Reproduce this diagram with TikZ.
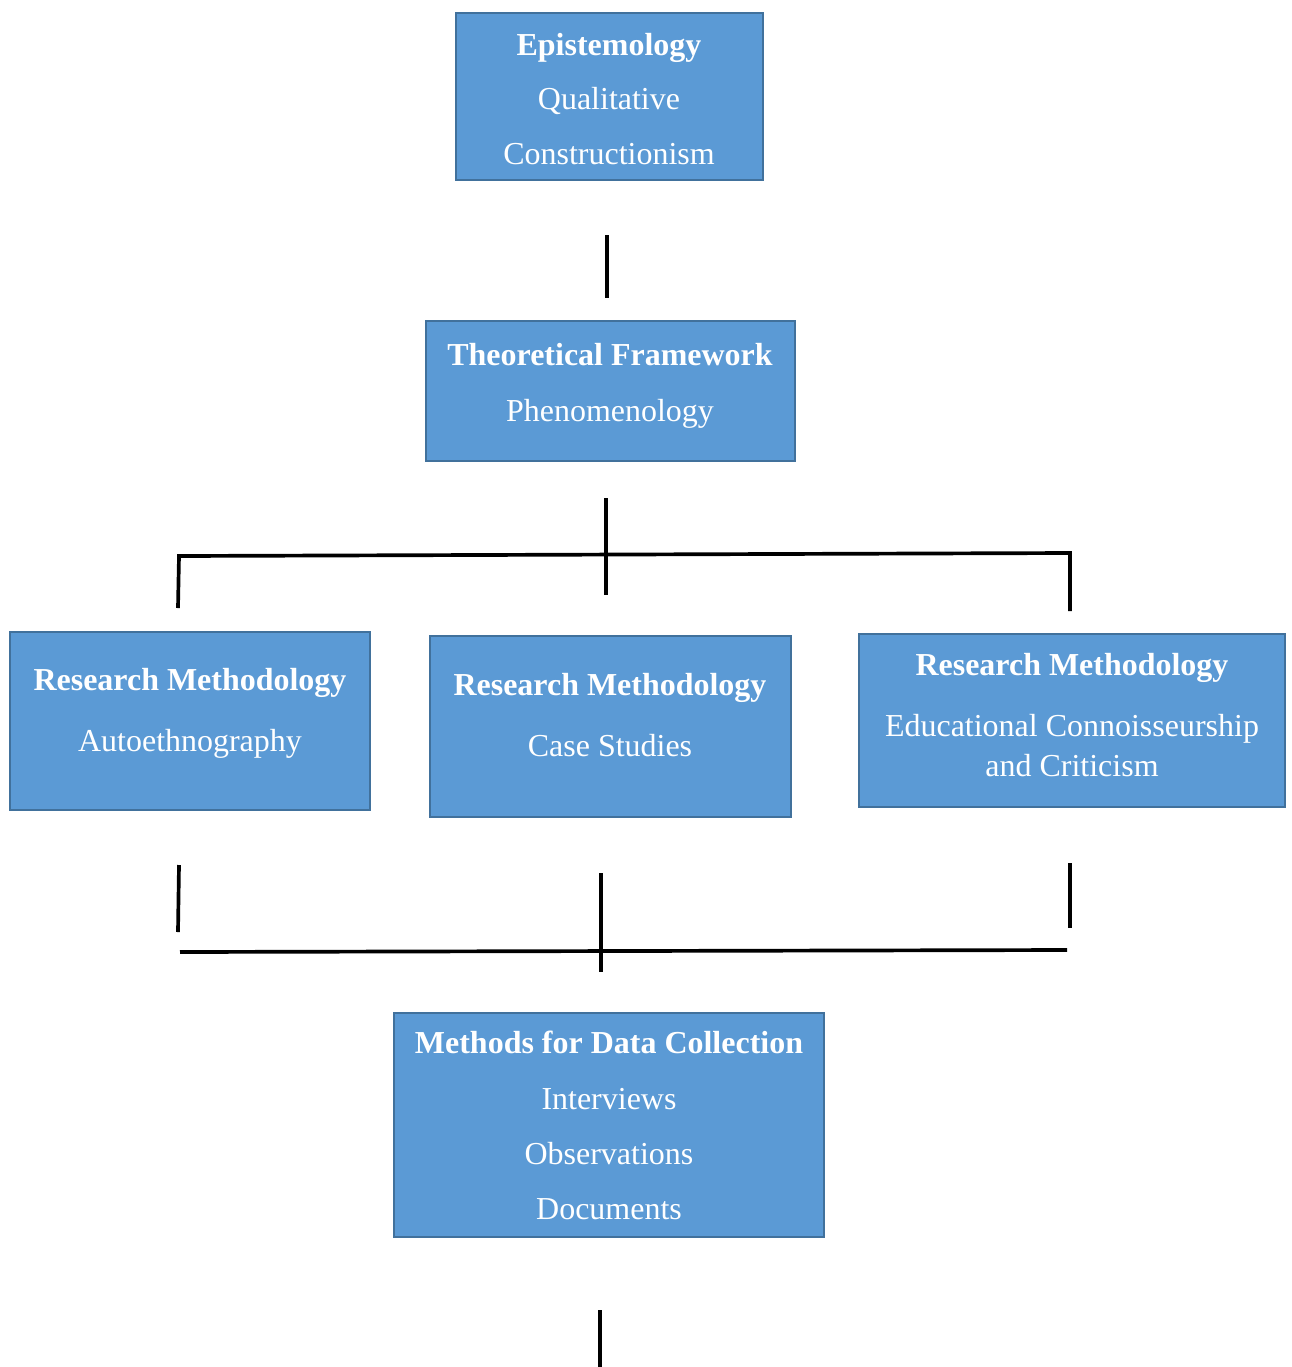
\documentclass[tikz,border=0pt]{standalone}
\usepackage{fontspec}
\setmainfont{Liberation Serif}
\usetikzlibrary{fit}
\definecolor{boxfill}{HTML}{5B9AD5}
\definecolor{boxline}{HTML}{41719C}
\begin{document}
\begin{tikzpicture}[x=0.02cm,y=-0.02cm,
  box/.style={draw=boxline, fill=boxfill, line width=1.3pt, inner sep=0pt},
  title/.style={font=\fontsize{18.2}{22}\selectfont\bfseries, text=white, anchor=base, inner sep=0pt},
  item/.style={font=\fontsize{18.2}{22}\selectfont, text=white, anchor=base, inner sep=0pt},
  link/.style={draw=black, line width=2.1pt}]
\useasboundingbox (0,0) rectangle (1292,1367);

% Boxes
\node[box, fit={(456,13) (763,180)}] (epi) {};
\node[box, fit={(426,321) (795,461)}] (theo) {};
\node[box, fit={(10,632) (370,810)}] (auto) {};
\node[box, fit={(430,636) (791,817)}] (case) {};
\node[box, fit={(859,634) (1285,807)}] (edu) {};
\node[box, fit={(394,1013) (824,1237)}] (meth) {};

% Box texts
\node[title] (epiT) at (609,55) {Epistemology};
\node[item] (epiA) at (609,109) {Qualitative};
\node[item] (epiB) at (609,164) {Constructionism};

\node[title] (theoT) at (610,365) {Theoretical Framework};
\node[item] (theoA) at (610,421) {Phenomenology};

\node[title] (autoT) at (190,690) {Research Methodology};
\node[item] (autoA) at (190,751) {Autoethnography};

\node[title] (caseT) at (610,695) {Research Methodology};
\node[item] (caseA) at (610,756) {Case Studies};

\node[title] (eduT) at (1072,675) {Research Methodology};
\node[item] (eduA) at (1072,736) {Educational Connoisseurship};
\node[item] (eduB) at (1072,776) {and Criticism};

\node[title] (methT) at (609,1053) {Methods for Data Collection};
\node[item] (methA) at (609,1109) {Interviews};
\node[item] (methB) at (609,1164) {Observations};
\node[item] (methC) at (609,1219) {Documents};

% Connector end points
\coordinate (c1a) at (607,235);
\coordinate (c1b) at (607,298);
\coordinate (c2a) at (606,498);
\coordinate (c2b) at (606,595);
\coordinate (c3a) at (178,608);
\coordinate (c3b) at (179,556);
\coordinate (c3c) at (1070,553);
\coordinate (c3d) at (1070,611);
\coordinate (c4a) at (179,865);
\coordinate (c4b) at (178,932);
\coordinate (c5a) at (601,873);
\coordinate (c5b) at (601,972);
\coordinate (c6a) at (1070,863);
\coordinate (c6b) at (1070,928);
\coordinate (c7a) at (180,952);
\coordinate (c7b) at (1067,950);
\coordinate (c8a) at (600,1310);
\coordinate (c8b) at (600,1367);

% Connectors
\draw[link] (c1a) -- (c1b);
\draw[link] (c2a) -- (c2b);
\draw[link] (c3a) -- (c3b) -- (c3c) -- (c3d);
\draw[link] (c4a) -- (c4b);
\draw[link] (c5a) -- (c5b);
\draw[link] (c6a) -- (c6b);
\draw[link] (c7a) -- (c7b);
\draw[link] (c8a) -- (c8b);
\end{tikzpicture}
\end{document}
